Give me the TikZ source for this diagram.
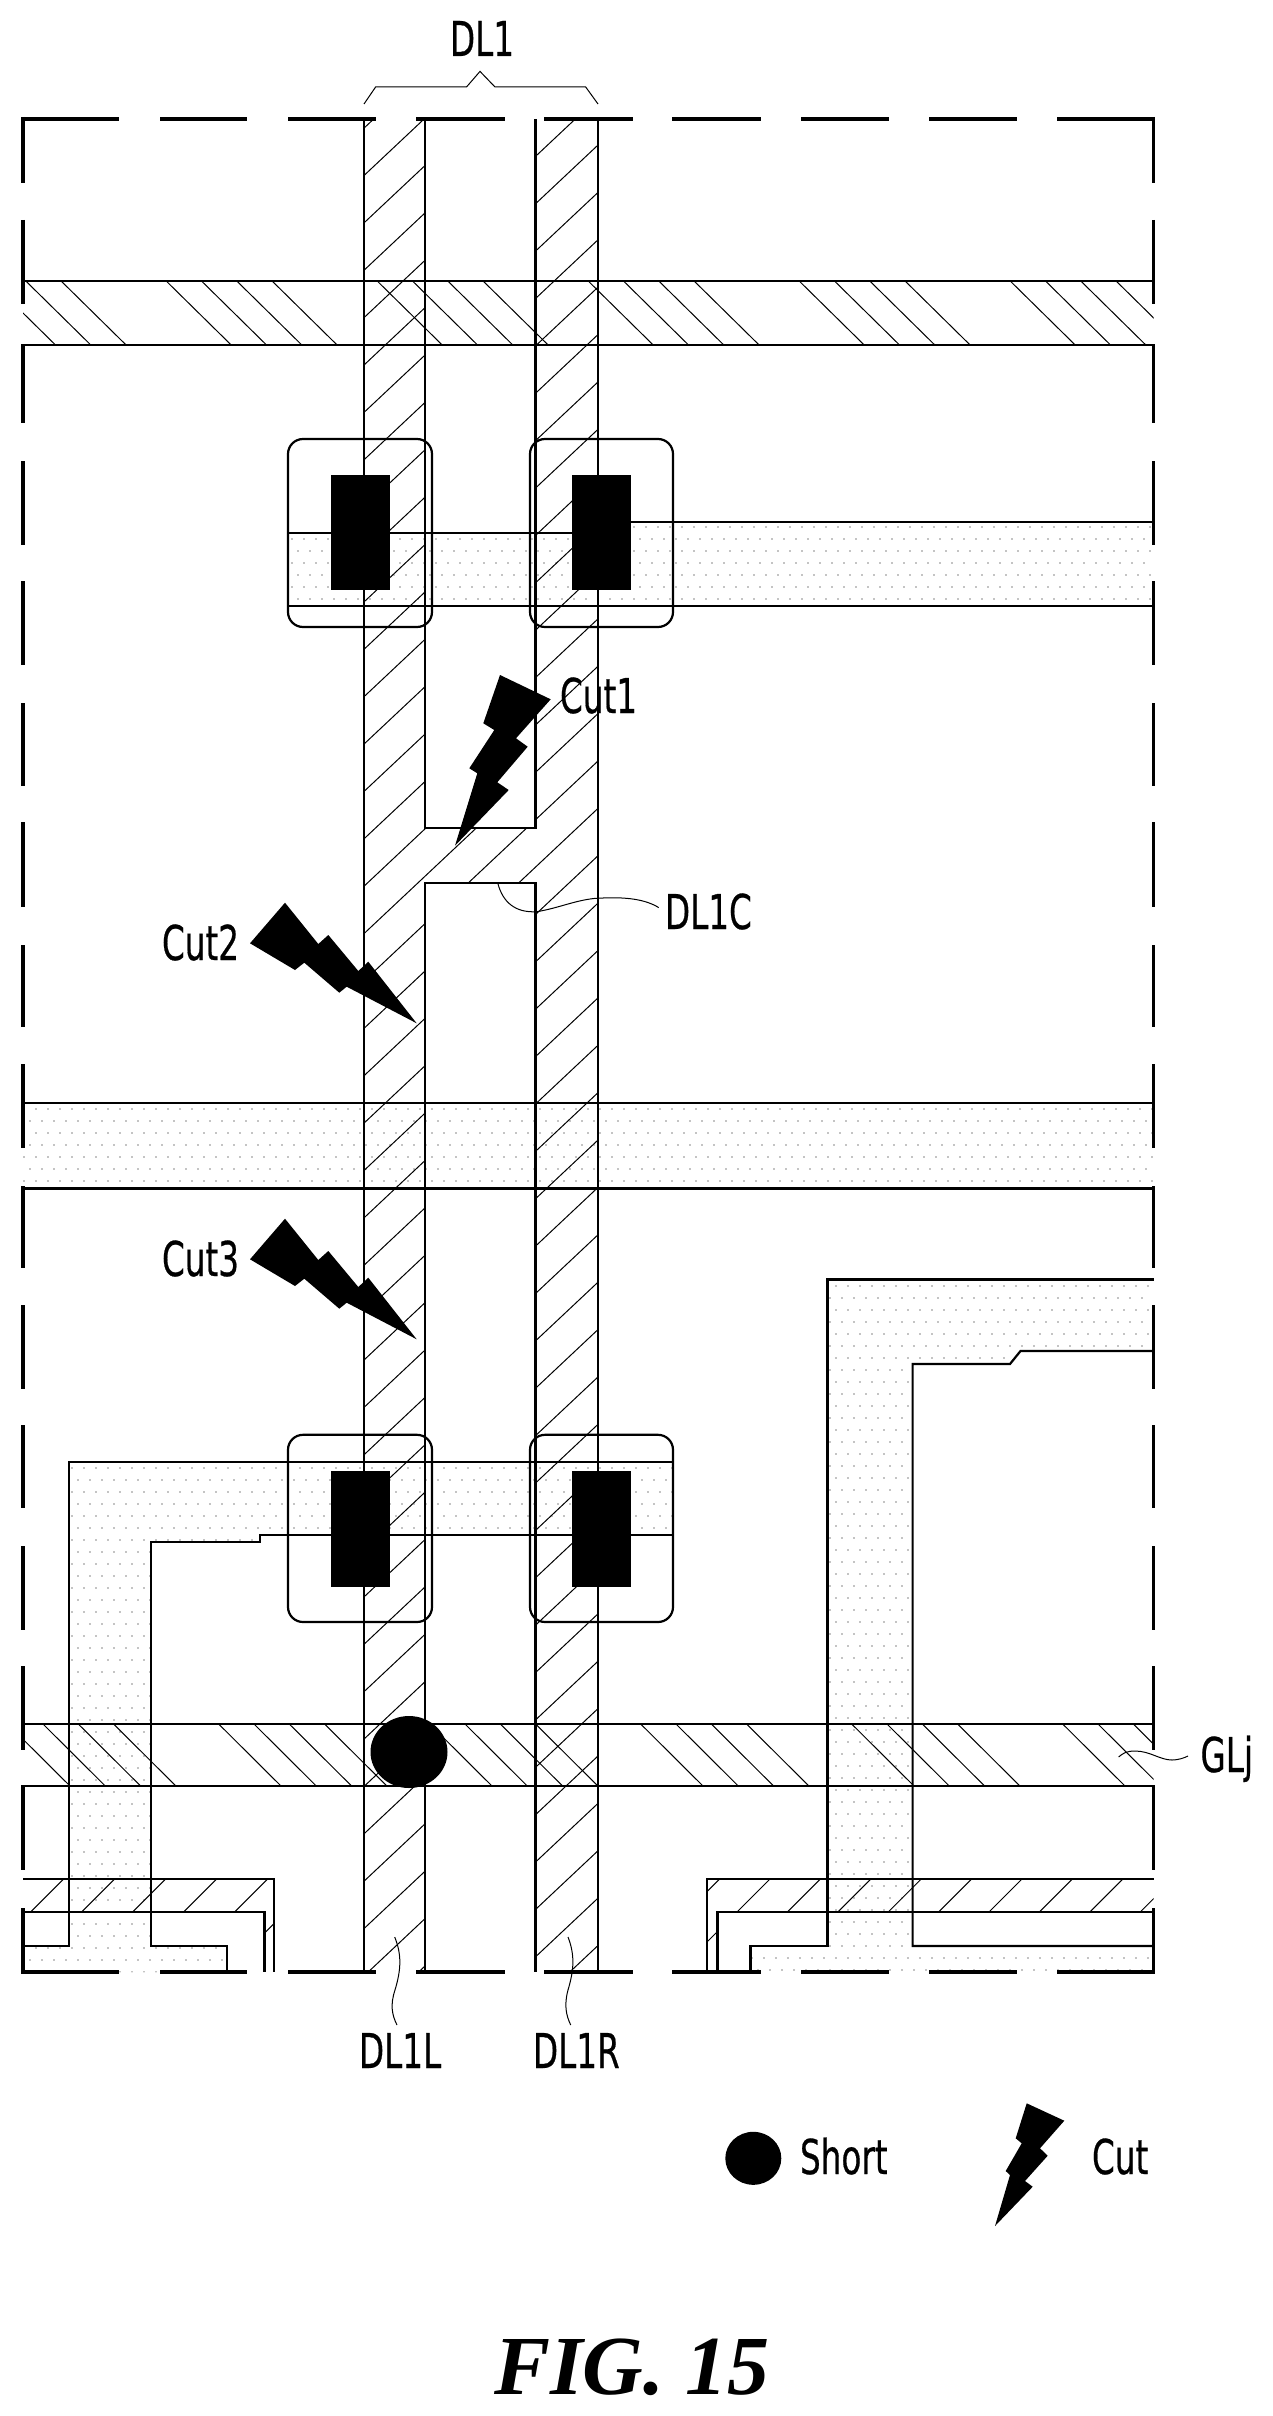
\documentclass[tikz,border=0pt]{standalone}
\usepackage{fontspec}
\setmainfont{DejaVu Sans}
\newfontfamily\lblfont[FakeBold=0.6]{DejaVu Sans}
\newfontfamily\figfont{Liberation Serif}
\tikzset{
  lbl/.style={anchor=base west,inner sep=0pt,outer sep=0pt},
  figlbl/.style={anchor=base west,inner sep=0pt,outer sep=0pt},
  frameline/.style={line width=3.8pt},
  wire/.style={line width=2.2pt},
  hatchline/.style={line width=1pt},
  leader/.style={line width=1pt},
  contact/.style={line width=2.2pt,rounded corners=15pt},
  via/.style={fill=black,draw=none},
  bolt/.style={fill=black,draw=none},
}
\newcommand\tl[1]{\scalebox{.68}[1]{\fontsize{48}{48}\selectfont\lblfont #1}}
% clip path, x0, columns, y0, rows
\newcommand\dotregion[5]{%
  \begin{scope}
    \clip #1;
    \fill[black] \foreach \jj in {0,...,#5}{\foreach \ii in {0,...,#3}{
      ({#2+12*\ii+6*mod(\jj,2)},{#4+12*\jj}) circle (0.7)}};
  \end{scope}}
\begin{document}
\begin{tikzpicture}[x=1pt,y=-1pt]
\useasboundingbox (0,0) rectangle (1272,2416);
\fill[white] (0,0) rectangle (1272,2416);

% dotted regions
\dotregion{(288,533) -- (631,533) -- (631,522) -- (1153,522) -- (1153,606) -- (288,606) -- cycle}{286}{72}{527}{7}
\dotregion{(23,1103) rectangle (1153,1188.4)}{24}{94}{1109}{7}
\dotregion{(69,1461.6) -- (673,1461.6) -- (673,1534.8) -- (259.6,1534.8) -- (259.6,1542) -- (151,1542) -- (151,1946) -- (227,1946) -- (227,1972) -- (23,1972) -- (23,1946) -- (69,1946) -- cycle}{24}{54}{1468}{42}
\dotregion{(827.5,1279.5) -- (1153,1279.5) -- (1153,1351) -- (1020.5,1351) -- (1010,1364) -- (912.6,1364) -- (912.6,1946) -- (1153,1946) -- (1153,1972) -- (750.4,1972) -- (750.4,1946) -- (827.5,1946) -- cycle}{752}{34}{1286}{58}

% data line hatch
\begin{scope}
  \clip (364,118.7) rectangle (425,1972)
        (425,828) rectangle (535.5,883)
        (535.5,118.7) rectangle (598,1972);
  \foreach \kk in {-12,...,32}
    \draw[hatchline] (364,{696.7+47.38*\kk}) -- (598,{696.7+47.38*\kk-220});
\end{scope}

% upper gate band hatch
\begin{scope}
  \clip (23,281) rectangle (1153.5,345);
  \foreach \jj in {0,...,5}\foreach \ii in {0,...,3}
    \draw[hatchline] ({20.2+211*\jj+35.3*\ii},345) -- ({20.2+211*\jj+35.3*\ii-65},281);
\end{scope}

% GLj band hatch
\begin{scope}
  \clip (23,1724.3) rectangle (1153.5,1786);
  \foreach \jj in {0,...,5}\foreach \ii in {0,...,3}
    \draw[hatchline] ({70+211*\jj+35.3*\ii},1786) -- ({70+211*\jj+35.3*\ii-62},1724.3);
\end{scope}

% bottom band hatch
\begin{scope}
  \clip (23,1879.3) -- (274,1879.3) -- (274,1972) -- (264.5,1972) -- (264.5,1911.7) -- (23,1911.7) -- cycle;
  \foreach \kk in {0,...,6}
    \draw[hatchline] ({1942.6+51*\kk-1860},1860) -- ({1942.6+51*\kk-1980},1980);
\end{scope}
\begin{scope}
  \clip (1153.5,1879.3) -- (707,1879.3) -- (707,1972) -- (717.4,1972) -- (717.4,1911.7) -- (1153.5,1911.7) -- cycle;
  \foreach \kk in {-1,...,10}
    \draw[hatchline] ({2649+50.4*\kk-1860},1860) -- ({2649+50.4*\kk-1980},1980);
\end{scope}

% data lines
\draw[wire] (364,118.7) -- (364,1972);
\draw[wire] (598,118.7) -- (598,1972);
\draw[wire] (425,118.7) -- (425,828) -- (535.5,828) -- (535.5,118.7);
\draw[wire] (425,1972) -- (425,883) -- (535.5,883) -- (535.5,1972);

% horizontal bands
\draw[wire] (23,281) -- (1153.5,281);
\draw[wire] (23,345) -- (1153.5,345);
\draw[wire] (288,533) -- (572,533);
\draw[wire] (631,522) -- (1153.5,522);
\draw[wire] (288,606) -- (1153.5,606);
\draw[wire] (23,1103) -- (1153.5,1103);
\draw[wire] (23,1188.4) -- (1153.5,1188.4);
\draw[wire] (23,1724.3) -- (1153.5,1724.3);
\draw[wire] (23,1786) -- (1153.5,1786);

% lower left and right conductors
\draw[wire] (673,1461.6) -- (69,1461.6) -- (69,1946) -- (23,1946);
\draw[wire] (673,1534.8) -- (259.6,1534.8) -- (259.6,1542) -- (151,1542) -- (151,1946) -- (227,1946) -- (227,1972);
\draw[wire] (1153.5,1279.5) -- (827.5,1279.5) -- (827.5,1946) -- (750.4,1946) -- (750.4,1972);
\draw[wire] (1153.5,1351) -- (1020.5,1351) -- (1010,1364) -- (912.6,1364) -- (912.6,1946) -- (1153.5,1946);

% bottom L bands
\draw[wire] (23,1879.3) -- (274,1879.3) -- (274,1972);
\draw[wire] (23,1911.7) -- (264.5,1911.7) -- (264.5,1972);
\draw[wire] (1153.5,1879.3) -- (707,1879.3) -- (707,1972);
\draw[wire] (1153.5,1911.7) -- (717.4,1911.7) -- (717.4,1972);

% contact boxes
\draw[contact] (288,439) rectangle (432,627);
\draw[contact] (530,439) rectangle (673,627);
\draw[contact] (288,1434.8) rectangle (432,1622);
\draw[contact] (530,1434.8) rectangle (673,1622);
\fill[via] (331,475) rectangle (389.5,590);
\fill[via] (572,475) rectangle (631,590);
\fill[via] (331,1470.5) rectangle (389.5,1586.6);
\fill[via] (572,1470.5) rectangle (631,1586.6);

% dashed frame
\foreach \aa/\bb in {23/119,160/247,288/376,416/505,544/633,672/761,801/889,929/1017,1057/1155}{
  \draw[frameline] (\aa,118.7) -- (\bb,118.7);
  \draw[frameline] (\aa,1972.3) -- (\bb,1972.3);
}
\foreach \aa/\bb in {117/183,220/304,344/423,461/545,581/665,703/786,822/907,945/1027,1064/1148,1186/1268,1305/1389,1425/1508,1546/1630,1666/1750,1785/1870,1908/1974}{
  \draw[frameline] (23,\aa) -- (23,\bb);
  \draw[frameline] (1153.5,\aa) -- (1153.5,\bb);
}

% short
\fill[black] (409,1752) ellipse [x radius=38.5,y radius=36];

% bolts
\fill[bolt] (500,675) -- (550.7,699.3) -- (516,738.3) -- (527.7,746.7) -- (497.3,782.3) -- (508.7,790) -- (455,845.7) -- (477.3,773.3) -- (469.3,768.3) -- (494.3,730) -- (483.3,723.3) -- cycle;
\fill[bolt] (285,902.7) -- (318.3,944) -- (328.3,935) -- (358.3,971) -- (368.3,961.7) -- (416.7,1023.3) -- (346.7,986.7) -- (339.3,992.7) -- (304.3,962.7) -- (295,970) -- (250,943.3) -- cycle;
\begin{scope}[yshift=-316pt]
\fill[bolt] (285,902.7) -- (318.3,944) -- (328.3,935) -- (358.3,971) -- (368.3,961.7) -- (416.7,1023.3) -- (346.7,986.7) -- (339.3,992.7) -- (304.3,962.7) -- (295,970) -- (250,943.3) -- cycle;
\end{scope}

% brace
\draw[leader] (364,104) -- (375.6,87) -- (466.5,87) -- (480,71.4) -- (495,87) -- (585.7,87) -- (598,104);

% leaders
\draw[leader] (498,884) .. controls (503,902) and (515,913) .. (536.7,911.7) .. controls (560,908) and (580,898) .. (603,898) .. controls (625,897) and (645,899) .. (658.7,907.6);
\draw[leader] (1118.6,1757) .. controls (1123,1753) and (1127,1751) .. (1135,1751) .. controls (1150,1751) and (1160,1760) .. (1172,1760) .. controls (1178,1760) and (1184,1758) .. (1188,1756);
\draw[leader] (394.7,1937) .. controls (402,1955) and (401,1970) .. (395,1990) .. controls (390,2005) and (392,2015) .. (397,2025);
\draw[leader] (568,1937) .. controls (575,1955) and (574,1970) .. (568,1990) .. controls (564,2005) and (566,2015) .. (570.7,2025);

% labels
\node[lbl] (dl1) at (450,56) {\tl{DL1}};
\node[lbl] (cut1) at (560,713) {\tl{Cut1}};
\node[lbl] (cut2) at (162,960) {\tl{Cut2}};
\node[lbl] (cut3) at (162,1276) {\tl{Cut3}};
\node[lbl] (dl1c) at (665,929) {\tl{DL1C}};
\node[lbl] (glj) at (1200.5,1772) {\tl{GLj}};
\node[lbl] (dl1l) at (359,2068) {\tl{DL1L}};
\node[lbl] (dl1r) at (533,2068) {\tl{DL1R}};

% legend
\fill[black] (753.3,2158.3) ellipse [x radius=28,y radius=26.5];
\node[lbl] (short) at (800,2174) {\tl{Short}};
\fill[bolt] (1026.7,2103.3) -- (1064.3,2120.7) -- (1040,2148.3) -- (1047.7,2155.7) -- (1025,2181) -- (1032.7,2186.7) -- (995,2226) -- (1010,2175) -- (1005.7,2171) -- (1021.7,2143.3) -- (1015.7,2138.3) -- cycle;
\node[lbl] (cutlegend) at (1092,2174) {\tl{Cut}};

% caption
\node[figlbl] (fig) at (494,2394) {\fontsize{84}{84}\selectfont\figfont\bfseries\itshape FIG. 15};
\end{tikzpicture}
\end{document}
